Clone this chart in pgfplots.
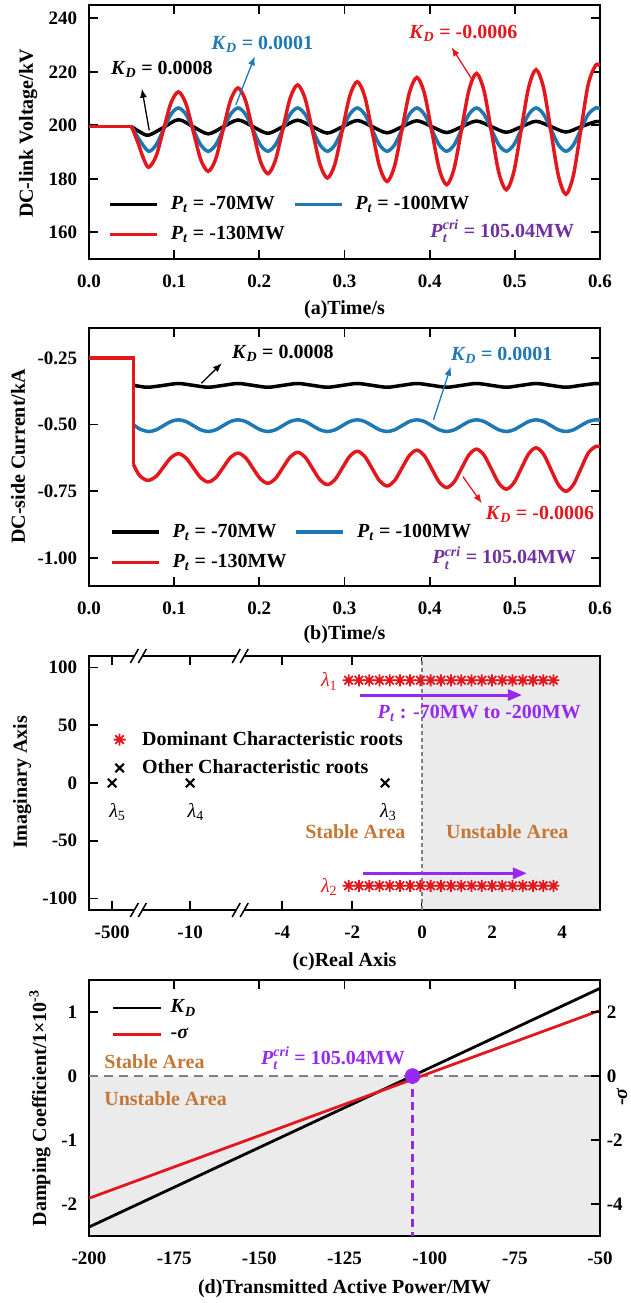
\documentclass[border=0pt]{standalone}
\usepackage{amsmath}
\usepackage{fontspec}
\setmainfont{Liberation Serif}
\usepackage{pgfplots}
\pgfplotsset{compat=1.18}
\usetikzlibrary{arrows.meta}
\definecolor{myblue}{RGB}{30,120,180}
\definecolor{myred}{RGB}{225,25,30}
\definecolor{mypurple}{RGB}{112,48,160}
\definecolor{myviolet}{RGB}{150,40,240}
\definecolor{myorange}{RGB}{196,120,56}
\definecolor{mygray}{RGB}{235,235,235}
\definecolor{dashgray}{RGB}{128,128,128}
\pgfdeclareplotmark{ast8}{%
 \pgfpathmoveto{\pgfpointpolar{0}{\pgfplotmarksize}}\pgfpathlineto{\pgfpointpolar{180}{\pgfplotmarksize}}%
 \pgfpathmoveto{\pgfpointpolar{45}{\pgfplotmarksize}}\pgfpathlineto{\pgfpointpolar{225}{\pgfplotmarksize}}%
 \pgfpathmoveto{\pgfpointpolar{90}{\pgfplotmarksize}}\pgfpathlineto{\pgfpointpolar{270}{\pgfplotmarksize}}%
 \pgfpathmoveto{\pgfpointpolar{135}{\pgfplotmarksize}}\pgfpathlineto{\pgfpointpolar{315}{\pgfplotmarksize}}%
 \pgfusepathqstroke}
\newcommand{\Pt}{\textit{P}\textsubscript{\textit{t}}}
\newcommand{\Pcri}{$\text{\textit{P}}_{\text{\textit{t}}}^{\text{\textit{cri}}}$}
\newcommand{\KD}{\textit{K}\textsubscript{\textit{D}}}
\newcommand{\lam}[1]{\textmd{\textit{λ}\textsubscript{#1}}}
\newcommand{\brk}[2]{%
  \draw[white, line width=5pt] (axis cs:#1,#2) ++(-4pt,0pt) -- ++(8pt,0pt);
  \draw[black, line width=1.5pt] (axis cs:#1,#2) ++(-8pt,-7pt) -- ++(8pt,14pt);
  \draw[black, line width=1.5pt] (axis cs:#1,#2) ++(0pt,-7pt) -- ++(8pt,14pt);}
\pgfplotsset{
 base/.style={
  scale only axis, width=511pt,
  axis line style={line width=1.8pt},
  tick style={line width=1.8pt, black},
  major tick length=9pt,
  tick align=inside,
  /pgf/number format/assume math mode=true,
  tick label style={font=\fontsize{19}{22}\selectfont},
  xticklabel style={yshift=-9pt},
  yticklabel style={xshift=-5pt},
  legend cell align=left,
 },
 linelegend/.style={
  legend image code/.code={\draw[##1] (0pt,0pt) -- (47pt,0pt);},
  legend style={draw=none, fill=none, inner xsep=0pt, inner ysep=0pt, legend columns=2, row sep=10pt,
   /tikz/every odd column/.append style={column sep=10pt},
   /tikz/every even column/.append style={column sep=6pt}},
 },
}
\begin{document}
\fontsize{20}{24}\selectfont\bfseries
\begin{tikzpicture}
\path[use as bounding box] (0,0) rectangle (630pt,-1303pt);
% ---------------- (a)
\begin{axis}[base, linelegend, at={(89pt,-5pt)}, anchor=north west, height=254pt,
 xmin=0, xmax=0.6, ymin=150, ymax=245,
 xtick={0,0.1,0.2,0.3,0.4,0.5,0.6}, ytick={160,180,200,220,240},
 xticklabel style={/pgf/number format/.cd, fixed, fixed zerofill, precision=1},
 xlabel={(a)Time/s}, ylabel={DC-link Voltage/kV},
 xlabel style={at={(axis description cs:0.5,-0.2)}, anchor=center},
 ylabel style={at={(axis description cs:-0.119,0.494)}, anchor=center},
 legend style={at={(axis cs:0.0225,174.3)}, anchor=north west}]
\addplot[black, line width=3.5pt, smooth] coordinates {(0.05,199.5)(0.06,197.5)(0.07,196.3)(0.0875,199.2)(0.105,202.1)(0.1225,199.45)(0.14,196.8)(0.1575,199.4)(0.175,202.0)(0.1925,199.5)(0.21,197.0)(0.2275,199.45)(0.245,201.9)(0.2625,199.5)(0.28,197.1)(0.2975,199.45)(0.315,201.8)(0.3325,199.5)(0.35,197.2)(0.3675,199.45)(0.385,201.7)(0.4025,199.5)(0.42,197.3)(0.4375,199.45)(0.455,201.6)(0.4725,199.5)(0.49,197.4)(0.5075,199.45)(0.525,201.5)(0.5425,199.5)(0.56,197.5)(0.5775,199.45)(0.595,201.4)(0.6,201.3)};
\addlegendentry{\Pt{} = -70MW}
\addplot[myblue, line width=3.5pt, smooth] coordinates {(0.05,199.5)(0.06,194.2)(0.07,190.3)(0.07875,192.67)(0.0875,198.4)(0.09625,204.13)(0.105,206.5)(0.11375,204.13)(0.1225,198.4)(0.13125,192.67)(0.14,190.3)(0.14875,192.67)(0.1575,198.4)(0.16625,204.13)(0.175,206.5)(0.18375,204.13)(0.1925,198.4)(0.20125,192.67)(0.21,190.3)(0.21875,192.67)(0.2275,198.4)(0.23625,204.13)(0.245,206.5)(0.25375,204.13)(0.2625,198.4)(0.27125,192.67)(0.28,190.3)(0.28875,192.67)(0.2975,198.4)(0.30625,204.13)(0.315,206.5)(0.32375,204.13)(0.3325,198.4)(0.34125,192.67)(0.35,190.3)(0.35875,192.67)(0.3675,198.4)(0.37625,204.13)(0.385,206.5)(0.39375,204.13)(0.4025,198.4)(0.41125,192.67)(0.42,190.3)(0.42875,192.67)(0.4375,198.4)(0.44625,204.13)(0.455,206.5)(0.46375,204.13)(0.4725,198.4)(0.48125,192.67)(0.49,190.3)(0.49875,192.67)(0.5075,198.4)(0.51625,204.13)(0.525,206.5)(0.53375,204.13)(0.5425,198.4)(0.55125,192.67)(0.56,190.3)(0.56875,192.67)(0.5775,198.4)(0.58625,204.13)(0.595,206.5)(0.6,206.2)};
\addlegendentry{\Pt{} = -100MW}
\addplot[myred, line width=3.5pt, smooth] coordinates {(0.05,199.5)(0.0575,193.5)(0.0635,188.0)(0.07,184.3)(0.07875,188.43)(0.0875,198.4)(0.09625,208.37)(0.105,212.5)(0.11375,208.15)(0.1225,197.65)(0.13125,187.15)(0.14,182.8)(0.14875,187.37)(0.1575,198.4)(0.16625,209.43)(0.175,214.0)(0.18375,209.3)(0.1925,197.95)(0.20125,186.6)(0.21,181.9)(0.21875,186.76)(0.2275,198.5)(0.23625,210.24)(0.245,215.1)(0.25375,210.0)(0.2625,197.7)(0.27125,185.4)(0.28,180.3)(0.28875,185.57)(0.2975,198.3)(0.30625,211.03)(0.315,216.3)(0.32375,210.84)(0.3325,197.65)(0.34125,184.46)(0.35,179.0)(0.35875,184.7)(0.3675,198.45)(0.37625,212.2)(0.385,217.9)(0.39375,212.03)(0.4025,197.85)(0.41125,183.67)(0.42,177.8)(0.42875,183.89)(0.4375,198.6)(0.44625,213.31)(0.455,219.4)(0.46375,213.03)(0.4725,197.65)(0.48125,182.27)(0.49,175.9)(0.49875,182.48)(0.5075,198.35)(0.51625,214.22)(0.525,220.8)(0.53375,213.98)(0.5425,197.5)(0.55125,181.02)(0.56,174.2)(0.56875,181.27)(0.5775,198.35)(0.58625,215.43)(0.595,222.5)(0.6,222.2)};
\addlegendentry{\Pt{} = -130MW}
\addplot[myred, line width=3.5pt, forget plot] coordinates {(0,199.5)(0.05,199.5)};
\draw[black, line width=1.3pt, -{Latex[length=9pt,width=7pt]}] (axis cs:0.0707,198.1) -- (axis cs:0.0621,213.7);
\draw[myblue, line width=1.3pt, -{Latex[length=9pt,width=7pt]}] (axis cs:0.1725,207.7) -- (axis cs:0.1947,225.8);
\draw[myred, line width=1.3pt, -{Latex[length=9pt,width=7pt]}] (axis cs:0.4494,217.3) -- (axis cs:0.4257,229.2);
\node[anchor=west, black] at (axis cs:0.018,220.8) {\KD{} = 0.0008};
\node[anchor=west, myblue] at (axis cs:0.136,230.4) {\KD{} = 0.0001};
\node[anchor=west, myred] at (axis cs:0.368,234.5) {\KD{} = -0.0006};
\node[anchor=east, mypurple] at (axis cs:0.5777,160.3) {\Pcri{} = 105.04MW};
\end{axis}
% ---------------- (b)
\begin{axis}[base, linelegend, at={(89pt,-328pt)}, anchor=north west, height=258pt,
 xmin=0, xmax=0.6, ymin=-1.105, ymax=-0.138,
 xtick={0,0.1,0.2,0.3,0.4,0.5,0.6}, ytick={-1,-0.75,-0.5,-0.25},
 xticklabel style={/pgf/number format/.cd, fixed, fixed zerofill, precision=1},
 yticklabel style={/pgf/number format/.cd, fixed, fixed zerofill, precision=2},
 xlabel={(b)Time/s}, ylabel={DC-side Current/kA},
 xlabel style={at={(axis description cs:0.5,-0.19)}, anchor=center},
 ylabel style={at={(axis description cs:-0.139,0.502)}, anchor=center},
 legend style={at={(axis cs:0.0245,-0.8647)}, anchor=north west}]
\addplot[black, line width=3.5pt, smooth] coordinates {(0.052,-0.352)(0.06,-0.357)(0.07,-0.36)(0.0875,-0.353)(0.105,-0.346)(0.1225,-0.353)(0.14,-0.36)(0.1575,-0.353)(0.175,-0.346)(0.1925,-0.353)(0.21,-0.36)(0.2275,-0.353)(0.245,-0.346)(0.2625,-0.353)(0.28,-0.36)(0.2975,-0.353)(0.315,-0.346)(0.3325,-0.353)(0.35,-0.36)(0.3675,-0.353)(0.385,-0.346)(0.4025,-0.353)(0.42,-0.36)(0.4375,-0.353)(0.455,-0.346)(0.4725,-0.353)(0.49,-0.36)(0.5075,-0.353)(0.525,-0.346)(0.5425,-0.353)(0.56,-0.36)(0.5775,-0.353)(0.595,-0.346)(0.6,-0.347)};
\addlegendentry{\Pt{} = -70MW}
\addplot[myblue, line width=3.5pt, smooth] coordinates {(0.052,-0.5)(0.06,-0.517)(0.07,-0.526)(0.07875,-0.5196)(0.0875,-0.504)(0.09625,-0.4884)(0.105,-0.482)(0.11375,-0.4884)(0.1225,-0.504)(0.13125,-0.5196)(0.14,-0.526)(0.14875,-0.5196)(0.1575,-0.504)(0.16625,-0.4884)(0.175,-0.482)(0.18375,-0.4884)(0.1925,-0.504)(0.20125,-0.5196)(0.21,-0.526)(0.21875,-0.5196)(0.2275,-0.504)(0.23625,-0.4884)(0.245,-0.482)(0.25375,-0.4884)(0.2625,-0.504)(0.27125,-0.5196)(0.28,-0.526)(0.28875,-0.5196)(0.2975,-0.504)(0.30625,-0.4884)(0.315,-0.482)(0.32375,-0.4884)(0.3325,-0.504)(0.34125,-0.5196)(0.35,-0.526)(0.35875,-0.5196)(0.3675,-0.504)(0.37625,-0.4884)(0.385,-0.482)(0.39375,-0.4884)(0.4025,-0.504)(0.41125,-0.5196)(0.42,-0.526)(0.42875,-0.5196)(0.4375,-0.504)(0.44625,-0.4884)(0.455,-0.482)(0.46375,-0.4884)(0.4725,-0.504)(0.48125,-0.5196)(0.49,-0.526)(0.49875,-0.5196)(0.5075,-0.504)(0.51625,-0.4884)(0.525,-0.482)(0.53375,-0.4884)(0.5425,-0.504)(0.55125,-0.5196)(0.56,-0.526)(0.56875,-0.5196)(0.5775,-0.504)(0.58625,-0.4884)(0.595,-0.482)(0.6,-0.484)};
\addlegendentry{\Pt{} = -100MW}
\addplot[myred, line width=3.5pt, smooth] coordinates {(0.052,-0.648)(0.058,-0.685)(0.064,-0.703)(0.07,-0.709)(0.07875,-0.6944)(0.0875,-0.659)(0.09625,-0.6236)(0.105,-0.609)(0.11375,-0.6245)(0.1225,-0.662)(0.13125,-0.6995)(0.14,-0.715)(0.14875,-0.6992)(0.1575,-0.661)(0.16625,-0.6228)(0.175,-0.607)(0.18375,-0.6235)(0.1925,-0.6635)(0.20125,-0.7035)(0.21,-0.72)(0.21875,-0.703)(0.2275,-0.662)(0.23625,-0.621)(0.245,-0.604)(0.25375,-0.6217)(0.2625,-0.6645)(0.27125,-0.7073)(0.28,-0.725)(0.28875,-0.7067)(0.2975,-0.6625)(0.30625,-0.6183)(0.315,-0.6)(0.32375,-0.619)(0.3325,-0.665)(0.34125,-0.711)(0.35,-0.73)(0.35875,-0.7104)(0.3675,-0.663)(0.37625,-0.6156)(0.385,-0.596)(0.39375,-0.6165)(0.4025,-0.666)(0.41125,-0.7155)(0.42,-0.736)(0.42875,-0.7149)(0.4375,-0.664)(0.44625,-0.6131)(0.455,-0.592)(0.46375,-0.614)(0.4725,-0.667)(0.48125,-0.72)(0.49,-0.742)(0.49875,-0.7193)(0.5075,-0.6645)(0.51625,-0.6097)(0.525,-0.587)(0.53375,-0.6109)(0.5425,-0.6685)(0.55125,-0.7261)(0.56,-0.75)(0.56875,-0.7254)(0.5775,-0.666)(0.58625,-0.6066)(0.595,-0.582)(0.6,-0.584)};
\addlegendentry{\Pt{} = -130MW}
\addplot[myred, line width=3.5pt, forget plot] coordinates {(0,-0.25)(0.052,-0.25)(0.052,-0.648)};
\draw[black, line width=1.3pt, -{Latex[length=9pt,width=7pt]}] (axis cs:0.132,-0.345) -- (axis cs:0.156,-0.270);
\draw[myblue, line width=1.3pt, -{Latex[length=9pt,width=7pt]}] (axis cs:0.4045,-0.482) -- (axis cs:0.4248,-0.283);
\draw[myred, line width=1.3pt, -{Latex[length=9pt,width=7pt]}] (axis cs:0.439,-0.695) -- (axis cs:0.4613,-0.795);
\node[anchor=west, black] at (axis cs:0.16,-0.232) {\KD{} = 0.0008};
\node[anchor=west, myblue] at (axis cs:0.417,-0.239) {\KD{} = 0.0001};
\node[anchor=west, myred] at (axis cs:0.458,-0.838) {\KD{} = -0.0006};
\node[anchor=east, mypurple] at (axis cs:0.58,-1.0) {\Pcri{} = 105.04MW};
\end{axis}
% ---------------- (c)
\begin{axis}[base, clip=false, at={(89pt,-656pt)}, anchor=north west, height=254pt,
 xmin=-9.52, xmax=5.08, ymin=-110, ymax=110,
 xtick={-8.86,-6.63,-4,-2,0,2,4}, xticklabels={-500,-10,-4,-2,0,2,4},
 ytick={-100,-50,0,50,100},
 xlabel={(c)Real Axis}, ylabel={Imaginary Axis},
 xlabel style={at={(axis description cs:0.5,-0.2035)}, anchor=center},
 ylabel style={at={(axis description cs:-0.131,0.502)}, anchor=center},
 legend style={draw=none, fill=none, inner xsep=0pt, inner ysep=0pt, row sep=7.5pt,
   at={(axis cs:-8.823,46.8)}, anchor=north west,
   /tikz/every odd column/.append style={column sep=14.5pt}}]
\addplot[fill=mygray, draw=none, forget plot] coordinates {(0,-109.2)(5.054,-109.2)(5.054,109.2)(0,109.2)};
\addplot[dashgray, line width=1.8pt, dash pattern=on 4pt off 3pt, forget plot] coordinates {(0,-110)(0,110)};
\addplot[only marks, mark=ast8, mark size=6pt, myred, line width=1.8pt] coordinates {(-2.1,89)(-1.808,89)(-1.515,89)(-1.223,89)(-0.93,89)(-0.638,89)(-0.345,89)(-0.053,89)(0.24,89)(0.533,89)(0.825,89)(1.118,89)(1.41,89)(1.703,89)(1.995,89)(2.288,89)(2.58,89)(2.873,89)(3.165,89)(3.458,89)(3.75,89)
(-2.1,-89)(-1.808,-89)(-1.515,-89)(-1.223,-89)(-0.93,-89)(-0.638,-89)(-0.345,-89)(-0.053,-89)(0.24,-89)(0.533,-89)(0.825,-89)(1.118,-89)(1.41,-89)(1.703,-89)(1.995,-89)(2.288,-89)(2.58,-89)(2.873,-89)(3.165,-89)(3.458,-89)(3.75,-89)};
\addlegendentry{Dominant Characteristic roots}
\addplot[only marks, mark=x, mark size=6pt, black, line width=2pt] coordinates {(-8.86,0)(-6.63,0)(-1.06,0)};
\addlegendentry{Other Characteristic roots}
\draw[myviolet, line width=3pt, -{Triangle[length=14pt,width=11pt]}] (axis cs:-1.77,76.2) -- (axis cs:2.85,76.2);
\draw[myviolet, line width=3pt, -{Triangle[length=14pt,width=11pt]}] (axis cs:-1.68,-78.2) -- (axis cs:2.99,-78.2);
\node[myviolet] at (axis cs:1.63,60) {\Pt{} : -70MW to -200MW};
\node[myred] at (axis cs:-2.66,88) {\lam{1}};
\node[myred] at (axis cs:-2.66,-90) {\lam{2}};
\node at (axis cs:-8.71,-25) {\lam{5}};
\node at (axis cs:-6.47,-25) {\lam{4}};
\node at (axis cs:-0.97,-25) {\lam{3}};
\node[myorange] at (axis cs:-1.91,-42) {Stable Area};
\node[myorange] at (axis cs:2.43,-42) {Unstable Area};
\brk{-8.11}{110}
\brk{-8.11}{-110}
\brk{-5.2}{110}
\brk{-5.2}{-110}
\end{axis}
% ---------------- (d)
\begin{axis}[base, at={(89pt,-980pt)}, anchor=north west, height=256pt,
 xmin=-200, xmax=-50, ymin=-2.5, ymax=1.5,
 xtick={-200,-175,-150,-125,-100,-75,-50}, ytick={-2,-1,0,1}, ytick pos=left,
 xlabel={(d)Transmitted Active Power/MW}, ylabel={Damping Coefficient/1×10\textsuperscript{-3}},
 xlabel style={at={(axis description cs:0.5,-0.204)}, anchor=center},
 ylabel style={at={(axis description cs:-0.096,0.5)}, anchor=center},
 legend image code/.code={\draw[#1] (0pt,0pt) -- (48pt,0pt);},
 legend style={draw=none, fill=none, inner xsep=0pt, inner ysep=0pt, row sep=7.7pt,
   at={(axis cs:-193.34,1.224)}, anchor=north west,
   /tikz/every odd column/.append style={column sep=6pt}}]
\addplot[fill=mygray, draw=none, forget plot] coordinates {(-199.73,0)(-50.27,0)(-50.27,-2.486)(-199.73,-2.486)};
\addplot[dashgray, line width=2.5pt, dash pattern=on 9pt off 6pt, forget plot] coordinates {(-200,0)(-50,0)};
\addplot[black, line width=2.8pt] coordinates {(-200,-2.36)(-50,1.37)};
\addlegendentry{\KD}
\addplot[myred, line width=2.8pt] coordinates {(-200,-1.91)(-50,1.025)};
\addlegendentry{-\textit{σ}}
\addplot[myviolet, line width=2.2pt, dash pattern=on 8pt off 5pt, forget plot] coordinates {(-105.04,0)(-105.04,-2.5)};
\addplot[only marks, mark=*, mark size=7.5pt, myviolet, forget plot] coordinates {(-105.04,0)};
\node[myviolet] at (axis cs:-128.4,0.28) {\Pcri{} = 105.04MW};
\node[myorange, anchor=west] at (axis cs:-197.5,0.22) {Stable Area};
\node[myorange, anchor=west] at (axis cs:-197.5,-0.36) {Unstable Area};
\end{axis}
\begin{axis}[scale only axis, width=511pt, height=256pt, at={(89pt,-980pt)}, anchor=north west,
 axis y line*=right, axis x line=none,
 axis line style={line width=1.8pt}, tick style={line width=1.8pt, black}, major tick length=9pt, tick align=inside,
 /pgf/number format/assume math mode=true,
 tick label style={font=\fontsize{19}{22}\selectfont},
 xmin=-200, xmax=-50, ymin=-5, ymax=3, ytick={-4,-2,0,2},
 yticklabel style={xshift=0pt},
 ylabel={-\textit{σ}},
 ylabel style={at={(axis description cs:1.043,0.543)}, anchor=center}]
\addplot[draw=none, forget plot] coordinates {(-200,0)(-50,0)};
\end{axis}
\end{tikzpicture}
\end{document}
